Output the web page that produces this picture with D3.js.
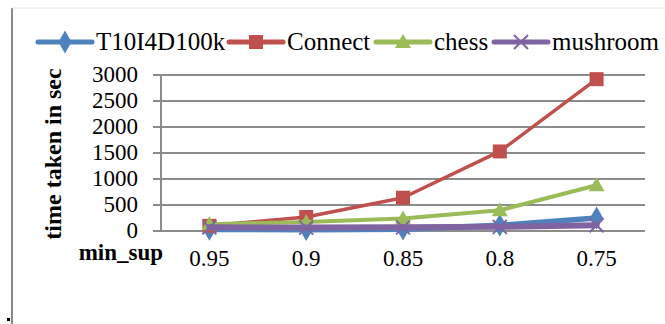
<!DOCTYPE html>
<html>
<head>
<meta charset="utf-8">
<script src="https://cdn.jsdelivr.net/npm/d3@7"></script>
<style>
  html, body { margin: 0; padding: 0; background: #fff; }
  svg { display: block; }
</style>
</head>
<body>
<svg id="chart" width="665" height="324"></svg>
<script>
// Minimum support thresholds on the x axis
const minSup = ["0.95", "0.9", "0.85", "0.8", "0.75"];
// Running time (seconds) for each dataset
const t10i4d100k = [30, 25, 35, 110, 250];
const connect = [100, 270, 640, 1530, 2920];
const chess = [130, 175, 240, 400, 880];
const mushroom = [70, 65, 70, 80, 110];
const yTicks = [0, 500, 1000, 1500, 2000, 2500, 3000];

const series = [
  { name: "T10I4D100k", values: t10i4d100k, color: "#4F81BD", width: 5.5, marker: "diamond" },
  { name: "Connect", values: connect, color: "#C0504D", width: 3.5, marker: "square" },
  { name: "chess", values: chess, color: "#9BBB59", width: 4, marker: "triangle" },
  { name: "mushroom", values: mushroom, color: "#8064A2", width: 6, marker: "cross" }
];

const SERIF = "'Liberation Serif', 'Times New Roman', serif";

const svg = d3.select("#chart");
const plot = { left: 161, right: 645, top: 75, bottom: 231 };

const x = d3.scalePoint().domain(minSup).range([plot.left, plot.right]).padding(0.5);
const y = d3.scaleLinear().domain([0, 3000]).range([plot.bottom, plot.top]);

function label(sel, size, bold) {
  return sel.attr("font-family", SERIF).attr("font-size", size)
    .attr("font-weight", bold ? "bold" : "normal").attr("fill", "#000");
}

// chart frame edges
svg.append("line").attr("x1", 12).attr("x2", 12).attr("y1", 8).attr("y2", 324)
  .attr("stroke", "#8a8a8a").attr("stroke-width", 2);
svg.append("line").attr("x1", 12).attr("x2", 665).attr("y1", 8).attr("y2", 8)
  .attr("stroke", "#e6e6e6").attr("stroke-width", 1);
svg.append("rect").attr("x", 7).attr("y", 318).attr("width", 3).attr("height", 3).attr("fill", "#000");

// horizontal gridlines
svg.append("g").selectAll("line").data(yTicks).join("line")
  .attr("x1", plot.left - 8).attr("x2", plot.right)
  .attr("y1", d => y(d)).attr("y2", d => y(d))
  .attr("stroke", "#8c8c8c").attr("stroke-width", 2);

// y axis line
svg.append("line").attr("x1", plot.left).attr("x2", plot.left)
  .attr("y1", plot.top).attr("y2", plot.bottom)
  .attr("stroke", "#8c8c8c").attr("stroke-width", 2);

// y tick labels
label(svg.append("g").selectAll("text").data(yTicks).join("text"), 23)
  .attr("x", 138).attr("y", d => y(d) + 7)
  .attr("text-anchor", "end")
  .text(d => d);

// x tick labels
label(svg.append("g").selectAll("text").data(minSup).join("text"), 23)
  .attr("x", d => x(d)).attr("y", 266)
  .attr("text-anchor", "middle")
  .text(d => d);

// axis titles
label(svg.append("text"), 24, true)
  .attr("transform", "translate(61,154) rotate(-90)")
  .attr("text-anchor", "middle")
  .text("time taken in sec");
label(svg.append("text"), 23, true)
  .attr("x", 163).attr("y", 260)
  .attr("text-anchor", "end")
  .text("min_sup");

function drawMarker(g, type, cx, cy, color) {
  if (type === "diamond") {
    g.append("path").attr("d", d3.symbol(d3.symbolDiamond, 150)())
      .attr("transform", `translate(${cx},${cy})`).attr("fill", color);
  } else if (type === "square") {
    g.append("rect").attr("x", cx - 7).attr("y", cy - 7).attr("width", 14).attr("height", 14)
      .attr("fill", color);
  } else if (type === "triangle") {
    g.append("path").attr("d", `M${cx},${cy - 8}L${cx + 8},${cy + 6}L${cx - 8},${cy + 6}Z`)
      .attr("fill", color);
  } else {
    g.append("path").attr("d", `M${cx - 7},${cy - 7}L${cx + 7},${cy + 7}M${cx + 7},${cy - 7}L${cx - 7},${cy + 7}`)
      .attr("stroke", color).attr("stroke-width", 2);
  }
}

const line = d3.line().x((d, i) => x(minSup[i])).y(d => y(d));

series.forEach(s => {
  const g = svg.append("g");
  g.append("path").datum(s.values).attr("d", line)
    .attr("fill", "none").attr("stroke", s.color).attr("stroke-width", s.width)
    .attr("stroke-linejoin", "round").attr("stroke-linecap", "round");
  s.values.forEach((v, i) => drawMarker(g, s.marker, x(minSup[i]), y(v), s.color));
});

// legend
const legendX = [38, 229, 376, 494];
series.forEach((s, i) => {
  const g = svg.append("g").attr("transform", `translate(${legendX[i]},42)`);
  g.append("line").attr("x1", 0).attr("x2", 54).attr("y1", 0).attr("y2", 0)
    .attr("stroke", s.color).attr("stroke-width", 5).attr("stroke-linecap", "round");
  drawMarker(g, s.marker, 27, 0, s.color);
  label(g.append("text"), 25).attr("x", 58).attr("y", 8).text(s.name);
});
</script>
</body>
</html>
